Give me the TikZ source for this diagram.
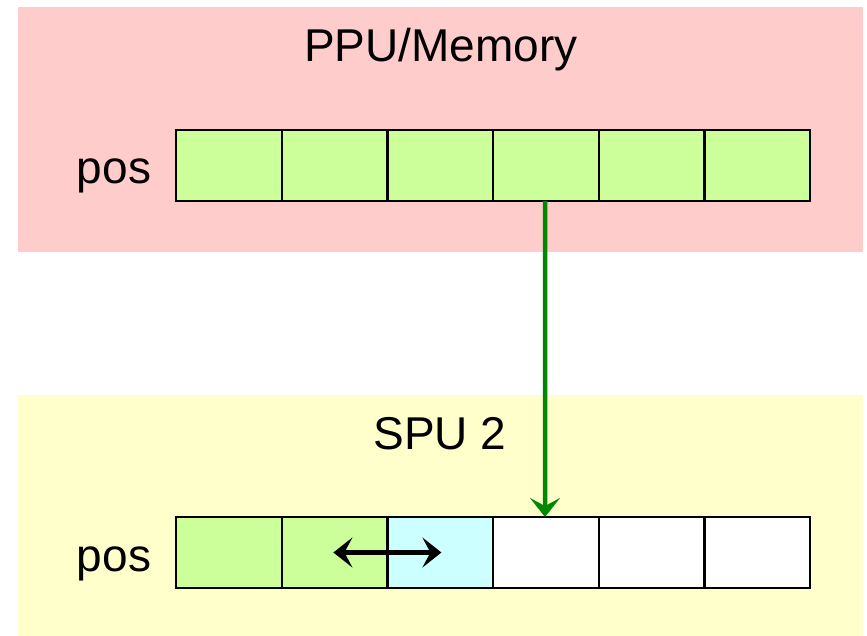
\documentclass[tikz,border=0pt]{standalone}
\usepackage{fontspec}
\setmainfont{Liberation Sans}
\usetikzlibrary{arrows.meta}
\definecolor{pinkbg}{RGB}{255,204,204}
\definecolor{yellowbg}{RGB}{255,255,204}
\definecolor{cellgreen}{RGB}{204,255,153}
\definecolor{cellcyan}{RGB}{204,255,255}
\definecolor{arrowgreen}{RGB}{0,136,0}
\begin{document}
\begin{tikzpicture}[x=1pt,y=-1pt,
  cell/.style={draw=black,line width=2.4pt,minimum width=105.7pt,minimum height=71pt,inner sep=0pt,outer sep=0pt,anchor=north west},
  lbl/.style={font=\fontsize{46}{50}\selectfont,anchor=base,inner sep=0pt},
  bigtip/.tip={Stealth[length=19pt,width=30pt,inset=8pt]}]
\useasboundingbox (0,0) rectangle (867,636);
\fill[pinkbg] (18,7) rectangle (863,252);
\fill[yellowbg] (18,395) rectangle (863,636);
\node[lbl] (ppu) at (441,62) {PPU/Memory};
\node[lbl] (spu) at (440,449) {SPU 2};
\node[lbl] (pos1) at (114,184) {pos};
\node[lbl] (pos2) at (114,571) {pos};
\foreach \i in {0,...,5} {
  \node[cell,fill=cellgreen] (t\i) at (176+\i*105.7,130) {};
}
\node[cell,fill=cellgreen] (b0) at (176,517) {};
\node[cell,fill=cellgreen] (b1) at (281.7,517) {};
\node[cell,fill=cellcyan] (b2) at (387.4,517) {};
\node[cell,fill=white] (b3) at (493.1,517) {};
\node[cell,fill=white] (b4) at (598.8,517) {};
\node[cell,fill=white] (b5) at (704.5,517) {};
\coordinate (src) at ([xshift=-493.1pt+545pt]t3.south west);
\coordinate (dst) at ([xshift=-493.1pt+545pt]b3.north west);
\draw[arrowgreen,line width=4.5pt,-bigtip] (src) -- (dst);
\coordinate (la) at ([xshift=-54pt]b1.east);
\coordinate (ra) at ([xshift=54pt]b1.east);
\draw[black,line width=4.5pt,bigtip-bigtip] (la) -- (ra);
\end{tikzpicture}
\end{document}
